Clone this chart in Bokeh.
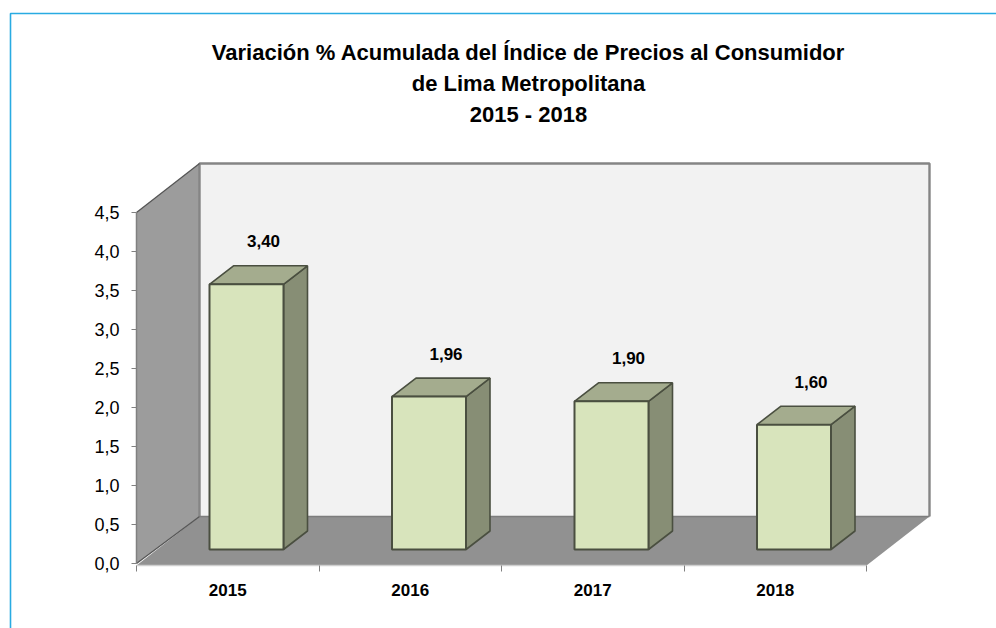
from bokeh.plotting import figure
from bokeh.models import LinearAxis, FixedTicker, Range1d
from bokeh.core.properties import value
from bokeh.embed import file_html
from bokeh.resources import INLINE

# ---- data
title_lines = ["Variación % Acumulada del Índice de Precios al Consumidor",
               "de Lima Metropolitana", "2015 - 2018"]
years = ["2015", "2016", "2017", "2018"]
variation = [3.40, 1.96, 1.90, 1.60]
bar_labels = ["3,40", "1,96", "1,90", "1,60"]
y_ticks = [0.0, 0.5, 1.0, 1.5, 2.0, 2.5, 3.0, 3.5, 4.0, 4.5]
y_tick_labels = ["0,0", "0,5", "1,0", "1,5", "2,0", "2,5", "3,0", "3,5", "4,0", "4,5"]

# ---- layout: data-unit scale of the picture
W, H = 996, 628
PX_X = 182.5          # px per category
PX_Y = 78.0           # px per unit of %
X0, Y0 = 136, 563     # page pixel of category 0 / value 0
OFF = 0               # figure origin on the photographed page

def ux(px):  # page x pixel -> data
    return (px - X0) / PX_X
def uy(py):  # page y pixel -> data
    return (Y0 - py) / PX_Y

FONT = "Liberation Sans"
p = figure(width=W, height=H, output_backend="svg", toolbar_location=None,
           x_range=Range1d(ux(OFF), ux(OFF + W)), y_range=Range1d(uy(OFF + H), uy(OFF)),
           min_border=0, outline_line_color=None, background_fill_color="white",
           border_fill_color="white")
p.xaxis.visible = False
p.yaxis.visible = False
p.grid.visible = False

# frame (blue rule)
p.line([ux(10), ux(10), ux(OFF + W)], [uy(OFF + H), uy(13), uy(13)], line_color="#29ABE2", line_width=1.6)

# 3D box
back_l, back_r, back_b, back_t = ux(199), ux(929), uy(516), uy(163)
n = len(years)
p.patch([0, 0, back_l, back_l], [0, 4.5, back_t, back_b], fill_color="#9C9C9C", line_color=None)
p.patch([back_l, back_r, back_r, back_l], [back_b, back_b, back_t, back_t], fill_color="#F2F2F2", line_color=None)
p.patch([0, n, back_r, back_l], [uy(565), uy(565), back_b, back_b], fill_color="#919191", line_color=None)
p.line([back_l, back_l, back_r, back_r], [back_b, back_t, back_t, back_b], line_color="#858585", line_width=2.4)
p.line([back_l, back_r], [back_b, back_b], line_color="#7d7d7d", line_width=1.5)
p.line([0, back_l], [4.5, back_t], line_color="#555555", line_width=1.3)
p.line([0, back_l], [0, back_b], line_color="#555555", line_width=1.3)
p.line([0, n], [uy(565), uy(565)], line_color="#CFCFCF", line_width=1.5)

# 3D bars
BW = 74 / PX_X
DX, DY = 24 / PX_X, 18.5 / PX_Y
BASE = uy(549)
EDGE = "#4A4F40"
for i, v in enumerate(variation):
    l = i + 0.4
    r = l + BW
    t = BASE + v
    p.patch([r, r + DX, r + DX, r], [BASE, BASE + DY, t + DY, t], fill_color="#878E75", line_color=EDGE, line_width=1.6)
    p.patch([l, r, r + DX, l + DX], [t, t, t + DY, t + DY], fill_color="#A4AC8E", line_color=EDGE, line_width=1.6)
    p.patch([l, r, r, l], [BASE, BASE, t, t], fill_color="#D8E4BC", line_color=EDGE, line_width=2)

# value labels
p.text([i + 0.4 + BW / 2 + 17 / PX_X for i in range(n)],
       [BASE + v + 43 / PX_Y for v in variation],
       text=bar_labels, text_font=value(FONT), text_font_style="bold", text_font_size="17px",
       text_color="#000000", text_align="center", text_baseline="middle")

# title
p.text([ux(528)] * 3, [uy(52), uy(83), uy(114)], text=title_lines, text_font=value(FONT),
       text_font_style="bold", text_font_size="22px", text_color="#000000",
       text_align="center", text_baseline="middle")

# axes
ya = LinearAxis(fixed_location=0, bounds=(0, 4.5), ticker=FixedTicker(ticks=y_ticks),
                major_label_overrides={t: s for t, s in zip(y_ticks, y_tick_labels)})
ya.axis_line_color = "#808080"
ya.axis_line_width = 1.5
ya.major_tick_line_color = "#808080"
ya.major_tick_out = 5
ya.major_tick_in = 0
ya.minor_tick_line_color = None
ya.major_label_text_font = FONT
ya.major_label_text_font_size = "18px"
ya.major_label_text_color = "#000000"
ya.major_label_standoff = 12
p.add_layout(ya, "left")

centers = [i + 0.5 for i in range(n)]
xl = LinearAxis(fixed_location=uy(565), bounds=(0, n),
                ticker=FixedTicker(ticks=centers, minor_ticks=list(range(n + 1))),
                major_label_overrides={c: y for c, y in zip(centers, years)})
xl.axis_line_color = None
xl.major_tick_line_color = None
xl.minor_tick_line_color = "#808080"
xl.minor_tick_out = 6
xl.minor_tick_in = 0
xl.major_label_text_font = FONT
xl.major_label_text_font_style = "bold"
xl.major_label_text_font_size = "17px"
xl.major_label_text_color = "#000000"
xl.major_label_standoff = 12
p.add_layout(xl, "below")

open("out.html", "w").write(file_html(p, INLINE))
